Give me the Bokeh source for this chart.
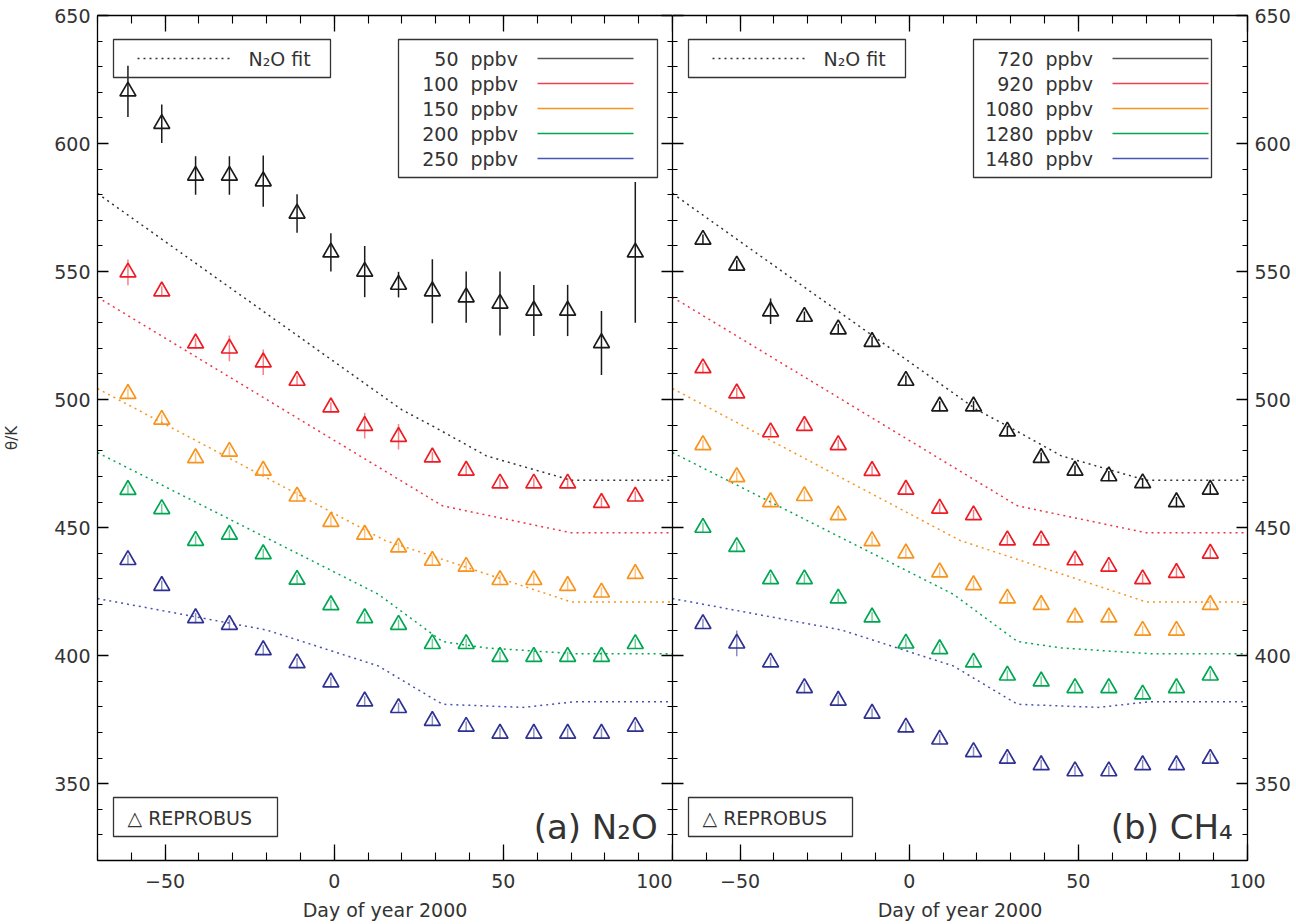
from bokeh.plotting import figure
from bokeh.layouts import row
from bokeh.models import (ColumnDataSource, LinearAxis, Range1d, SingleIntervalTicker,
                          Label, BoxAnnotation, Arrow, CustomLabelingPolicy)
from bokeh.embed import file_html
from bokeh.resources import INLINE

# ---------------------------------------------------------------- data
days = [-61, -51, -41, -31, -21, -11, -1, 9, 19, 29, 39, 49, 59, 69, 79, 89]

n2o_levels = [50, 100, 150, 200, 250]      # ppbv
ch4_levels = [720, 920, 1080, 1280, 1480]  # ppbv

# potential temperature (K) of each N2O isopleth in REPROBUS
n2o_50 = [620.4, 607.7, 587.5, 587.5, 585.3, 572.7, 557.5, 550.0,
          544.9, 542.3, 540.0, 537.5, 534.8, 534.8, 522.1, 557.5]
n2o_100 = [549.7, 542.3, 522.0, 520.0, 514.6, 507.4, 497.0, 489.8,
           485.5, 477.5, 472.3, 467.3, 467.3, 467.3, 459.7, 462.2]
n2o_150 = [502.3, 492.2, 477.2, 479.7, 472.3, 462.2, 452.3, 447.3,
           442.3, 437.1, 434.8, 429.6, 429.6, 427.3, 424.7, 432.0]
n2o_200 = [464.8, 457.3, 444.9, 447.3, 439.7, 429.7, 419.8, 414.7,
           412.1, 404.6, 404.6, 399.6, 399.6, 399.6, 399.6, 404.6]
n2o_250 = [437.4, 427.3, 414.7, 412.1, 402.2, 397.1, 389.6, 382.2,
           379.6, 374.6, 372.3, 369.6, 369.6, 369.6, 369.6, 372.3]

n2o_50_err = [10, 7.5, 7.5, 7.5, 10, 7.5, 7.5, 10, 5, 12.5, 10, 12.5, 10, 10, 12.5, 27.5]
n2o_100_err = [5, 2, 2, 5, 5, 2, 2, 5, 5, 2, 2, 2, 2, 2, 2, 2]
n2o_150_err = [2] * 16
n2o_200_err = [2] * 16
n2o_250_err = [2] * 16

# potential temperature (K) of each CH4 isopleth in REPROBUS
ch4_720 = [562.5, 552.4, 534.5, 532.4, 527.5, 522.6, 507.4, 497.4,
           497.4, 487.6, 477.3, 472.3, 470.1, 467.4, 460.0, 464.9]
ch4_920 = [512.3, 502.5, 487.3, 489.8, 482.3, 472.2, 464.9, 457.5,
           454.9, 445.1, 445.1, 437.3, 434.8, 429.9, 432.4, 439.9]
ch4_1080 = [482.3, 469.8, 460.0, 462.4, 454.9, 444.8, 440.0, 432.6,
            427.6, 422.4, 419.9, 415.0, 415.0, 409.8, 409.8, 419.9]
ch4_1280 = [450.0, 442.5, 429.9, 429.9, 422.4, 415.0, 404.8, 402.6,
            397.4, 392.3, 390.0, 387.4, 387.4, 384.9, 387.4, 392.3]
ch4_1480 = [412.4, 404.8, 397.4, 387.4, 382.5, 377.4, 372.0, 367.3,
            362.4, 359.8, 357.3, 354.9, 354.9, 357.3, 357.3, 359.8]

ch4_720_err = [2, 2, 5, 2, 2, 2, 2, 2, 2, 2, 2, 2, 2, 2, 2, 2]
ch4_920_err = [2] * 16
ch4_1080_err = [2] * 16
ch4_1280_err = [2] * 16
ch4_1480_err = [2, 5, 2, 2, 2, 2, 2, 2, 2, 2, 2, 2, 2, 2, 2, 2]

# N2O fit curves (theta vs day), shared by both panels
fit_50_day = [-70, 20, 30, 45, 70, 100]
fit_50 = [580.5, 496.0, 489.0, 478.0, 468.5, 468.5]
fit_100_day = [-70, 32, 70, 100]
fit_100 = [540.0, 458.5, 448.0, 448.0]
fit_150_day = [-70, 15, 70, 100]
fit_150 = [504.3, 445.0, 421.0, 421.0]
fit_200_day = [-70, 13, 32, 45, 72, 100]
fit_200 = [479.3, 424.0, 405.5, 403.0, 400.7, 400.7]
fit_250_day = [-70, -20, 13, 32, 56, 71, 100]
fit_250 = [422.3, 410.0, 396.0, 381.0, 379.8, 382.0, 382.0]

# ---------------------------------------------------------------- style
FONT = "DejaVu Sans"
TXT = "#333333"
marker_colors = ["#1a1a1a", "#ed1c24", "#f7941d", "#00a651", "#2e3192"]
key_colors = ["#555555", "#ef4050", "#f7941d", "#00a651", "#4a55b5"]
fit_colors = ["#333333", "#ee3344", "#f7941d", "#00a651", "#4a50b0"]

fit_days = [fit_50_day, fit_100_day, fit_150_day, fit_200_day, fit_250_day]
fit_vals = [fit_50, fit_100, fit_150, fit_200, fit_250]

FRAME_W, FRAME_H = 575, 845
DOTS = "2 4"

# drop every tick label on the tick-only frame axes
NO_LABELS = CustomLabelingPolicy(code="""
    for (const i of indices) {
        indices.unset(i)
    }
    return indices
""")


def style_axis(ax, dim, labels):
    ax.ticker = SingleIntervalTicker(interval=50, num_minor_ticks=5)
    ax.axis_line_color = "black"
    ax.axis_line_width = 1.3
    ax.major_tick_line_color = "black"
    ax.minor_tick_line_color = "black"
    ax.major_tick_line_width = 1.3
    ax.minor_tick_line_width = 1.1
    ax.major_tick_out = 0
    ax.minor_tick_out = 0
    ax.major_tick_in = 16 if dim == "x" else 11
    ax.minor_tick_in = 8 if dim == "x" else 5
    if labels:
        ax.major_label_text_font = FONT
        ax.major_label_text_font_size = "19px"
        ax.major_label_text_color = TXT
        ax.major_label_standoff = 13 if dim == "x" else 7
        if dim == "x":
            ax.major_label_overrides = {-50: "\u221250"}
    else:
        ax.major_label_policy = NO_LABELS
        ax.major_label_text_font_size = "0px"
        ax.major_label_standoff = 0


def make_panel(side, series, errs, levels, label_text, box_right):
    p = figure(frame_width=FRAME_W, frame_height=FRAME_H,
               x_range=Range1d(-70, 100), y_range=Range1d(320, 650),
               output_backend="svg", toolbar_location=None,
               y_axis_location=side,
               min_border_top=15, min_border_bottom=64,
               min_border_left=97 if side == "left" else 0,
               min_border_right=0 if side == "left" else 49)
    p.outline_line_color = None
    p.grid.visible = False
    p.background_fill_color = "white"
    p.border_fill_color = "white"

    style_axis(p.xaxis[0], "x", True)
    style_axis(p.yaxis[0], "y", True)
    p.xaxis.axis_label = "Day of year 2000"
    p.xaxis.axis_label_text_font = FONT
    p.xaxis.axis_label_text_font_size = "19px"
    p.xaxis.axis_label_text_font_style = "normal"
    p.xaxis.axis_label_text_color = TXT
    p.xaxis.axis_label_standoff = 8
    if side == "left":
        p.yaxis.axis_label = "\u03b8/K"
        p.yaxis.axis_label_text_font = FONT
        p.yaxis.axis_label_text_font_size = "15px"
        p.yaxis.axis_label_text_font_style = "normal"
        p.yaxis.axis_label_text_color = TXT
        p.yaxis.axis_label_standoff = 30

    top = LinearAxis()
    style_axis(top, "x", False)
    p.add_layout(top, "above")
    other = LinearAxis()
    style_axis(other, "y", False)
    p.add_layout(other, "right" if side == "left" else "left")

    # N2O fit curves
    for fd, fv, c in zip(fit_days, fit_vals, fit_colors):
        p.line(fd, fv, line_color=c, line_width=1.5, line_dash=DOTS)

    # REPROBUS isopleths with error bars
    for vals, err, c, k in zip(series, errs, marker_colors, range(5)):
        src = ColumnDataSource(dict(
            day=days, val=vals,
            lo=[v - e for v, e in zip(vals, err)],
            hi=[v + e for v, e in zip(vals, err)]))
        p.segment(x0="day", y0="lo", x1="day", y1="hi", source=src,
                  line_color=c, line_width=1.5, line_alpha=1.0 if k == 0 else 0.55)
        p.scatter(x="day", y="val", source=src, marker="triangle", size=16,
                  fill_color=None, line_color=c, line_width=1.7)

    def box(l, r, b, t):
        p.add_layout(BoxAnnotation(left=l, right=r, bottom=b, top=t,
                                   left_units="screen", right_units="screen",
                                   bottom_units="screen", top_units="screen",
                                   fill_color=None, fill_alpha=0,
                                   line_color="#333333", line_width=1.3, line_alpha=1))

    def text(x, y, s, size="19px", align="left"):
        p.add_layout(Label(x=x, y=y, x_units="screen", y_units="screen", text=s,
                           text_font=FONT, text_font_size=size, text_color=TXT,
                           text_align=align, text_baseline="middle"))

    # key: N2O fit
    box(16, 233, 783, 821)
    p.add_layout(Arrow(end=None, x_start=40, y_start=802, x_end=135, y_end=802,
                       start_units="screen", end_units="screen",
                       line_color="#333333", line_width=1.5, line_dash=DOTS))
    text(151, 802, "N\u2082O  fit")

    # key: isopleth levels
    box(301, box_right, 683, 821)
    for i, (lev, c) in enumerate(zip(levels, key_colors)):
        yy = 802 - 25 * i
        text(361, yy, str(lev), align="right")
        text(373, yy, "ppbv")
        p.add_layout(Arrow(end=None, x_start=440, y_start=yy, x_end=536, y_end=yy,
                           start_units="screen", end_units="screen",
                           line_color=c, line_width=1.5))

    # key: model symbol
    box(16, 180, 24, 63)
    text(30, 43, "\u25b3 REPROBUS")

    # panel tag
    p.add_layout(Label(x=571, y=34, x_units="screen", y_units="screen", text=label_text,
                       text_font=FONT, text_font_size="34px", text_color=TXT,
                       text_align="right", text_baseline="middle"))
    return p


p1 = make_panel("left", [n2o_50, n2o_100, n2o_150, n2o_200, n2o_250],
                [n2o_50_err, n2o_100_err, n2o_150_err, n2o_200_err, n2o_250_err],
                n2o_levels, "(a)  N\u2082O", 560)
p2 = make_panel("right", [ch4_720, ch4_920, ch4_1080, ch4_1280, ch4_1480],
                [ch4_720_err, ch4_920_err, ch4_1080_err, ch4_1280_err, ch4_1480_err],
                ch4_levels, "(b)  CH\u2084", 539)

layout = row(p1, p2, spacing=0)
open("out.html", "w").write(file_html(layout, INLINE))
